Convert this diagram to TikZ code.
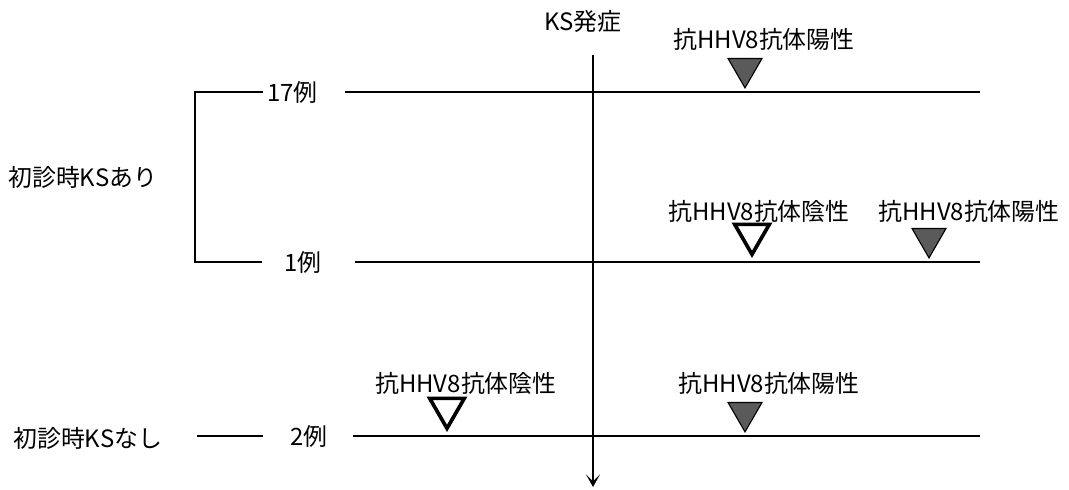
\documentclass[tikz,border=0pt]{standalone}
\usepackage{fontspec}
\setmainfont{Noto Sans CJK JP}
\usetikzlibrary{arrows.meta, positioning, shapes.geometric}
\definecolor{markgray}{RGB}{90, 90, 90}

\begin{document}
\begin{tikzpicture}[x=0.025cm, y=-0.025cm, font=\fontsize{17}{20}\selectfont,
  rowline/.style={line width=2pt},
  ksaxis/.style={line width=1.5pt, -{Stealth[length=9pt, width=10pt, inset=5pt]}},
  posmark/.style={regular polygon, regular polygon sides=3, shape border rotate=180,
    minimum size=0.98cm, inner sep=0pt, draw, line width=0.8pt, fill=markgray},
  negmark/.style={posmark, fill=white, line width=2.6pt, minimum size=1.0cm},
  hhvlabel/.style={inner sep=0pt, anchor=west}]
  \useasboundingbox (0,0) rectangle (1069,489);

  % KS onset axis
  \node (ks) at (583,21) {KS発症};
  \coordinate (axtop) at (593,55);
  \coordinate (axbot) at (593,487);
  \draw[ksaxis] (axtop) -- (axbot);

  % groups and case counts
  \node[inner sep=0pt, anchor=west] (kari) at (8,177) {初診時KSあり};
  \node[inner sep=0pt, anchor=west] (knashi) at (13,438) {初診時KSなし};
  \node[inner sep=0pt, anchor=west] (n17) at (267,92) {17例};
  \node[inner sep=0pt, anchor=west] (n1) at (284,262) {1例};
  \node[inner sep=0pt, anchor=west] (n2) at (290,436) {2例};

  % time lines
  \coordinate (r1s) at (345,92);  \coordinate (r1e) at (980,92);
  \coordinate (r2s) at (355,262); \coordinate (r2e) at (980,262);
  \coordinate (r3s) at (353,436); \coordinate (r3e) at (980,436);
  \foreach \r in {1,2,3}
    \draw[rowline] (r\r s) -- (r\r e);

  % bracket and dash
  \coordinate (b1) at (263,92);
  \coordinate (b2) at (262,262);
  \draw[rowline] (b1) -| (195,262) -- (b2);
  \coordinate (d1) at (197,436);
  \coordinate (d2) at (263,436);
  \draw[rowline] (d1) -- (d2);

  % antibody results
  \node[posmark, anchor=corner 1] (p1) at (745,89) {};
  \node[hhvlabel] (p1t) at (673,39) {抗HHV8抗体陽性};

  \node[negmark, anchor=corner 1] (m2) at (752,258) {};
  \node[hhvlabel] (m2t) at (668,211) {抗HHV8抗体陰性};
  \node[posmark, anchor=corner 1] (p2) at (929,259) {};
  \node[hhvlabel] (p2t) at (878,211) {抗HHV8抗体陽性};

  \node[negmark, anchor=corner 1] (m3) at (447,432) {};
  \node[hhvlabel] (m3t) at (375,383) {抗HHV8抗体陰性};
  \node[posmark, anchor=corner 1] (p3) at (745,433) {};
  \node[hhvlabel] (p3t) at (678,383) {抗HHV8抗体陽性};
\end{tikzpicture}
\end{document}
